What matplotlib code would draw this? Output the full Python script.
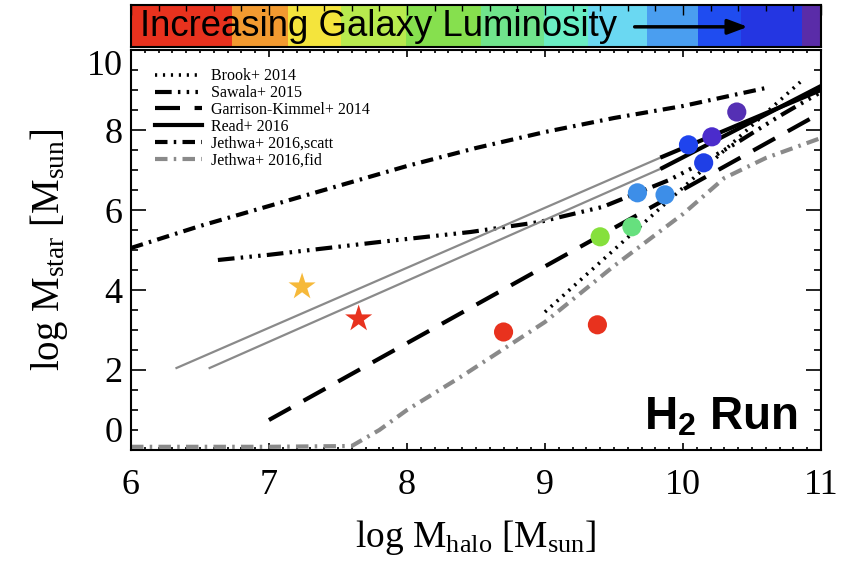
import matplotlib.pyplot as plt
from matplotlib.ticker import MultipleLocator

plt.rcParams['mathtext.fontset'] = 'custom'
plt.rcParams['mathtext.rm'] = 'Liberation Serif'
plt.rcParams['mathtext.it'] = 'Liberation Serif:italic'
plt.rcParams['mathtext.bf'] = 'Liberation Sans:bold'

# abundance-matching relations: log M_halo -> log M_star
brook_x = [9.0, 10.85]
brook_y = [3.45, 9.2]
sawala_x = [6.63, 7.0, 7.8, 8.46, 8.96, 9.42, 9.67, 9.9, 10.14, 10.39, 10.7, 11.0]
sawala_y = [4.75, 4.88, 5.2, 5.45, 5.7, 6.08, 6.43, 6.75, 7.18, 7.68, 8.35, 8.95]
gk_x = [7.0, 11.0]
gk_y = [0.75, 8.43]
read_x = [[6.33, 9.85, 11.0], [6.57, 9.85, 11.0]]
read_y = [[2.05, 7.33, 9.0], [2.05, 7.05, 9.1]]
jscatt_x = [6.0, 6.5, 7.0, 7.5, 8.0, 8.5, 9.0, 9.5, 10.0, 10.6]
jscatt_y = [5.05, 5.6, 6.1, 6.6, 7.1, 7.55, 7.95, 8.3, 8.6, 9.05]
jfid_x = [6.0, 7.0, 7.6, 7.8, 8.0, 8.4, 9.0, 9.5, 10.0, 10.3, 10.6, 11.0]
jfid_y = [0.08, 0.08, 0.1, 0.5, 1.0, 1.85, 3.2, 4.6, 5.9, 6.8, 7.3, 7.8]

# simulated galaxies
gal_x = [8.70, 9.38, 9.40, 9.63, 9.67, 9.87, 10.04, 10.15, 10.21, 10.39]
gal_y = [2.95, 3.13, 5.33, 5.58, 6.43, 6.38, 7.63, 7.18, 7.83, 8.45]
gal_c = ['#e8321e', '#e8321e', '#86e03c', '#66e07e', '#3d8ee8', '#3d8ee8',
         '#1f44ee', '#1f3fe6', '#4b2ccc', '#5530b4']
star_x = [7.24, 7.65]
star_y = [4.08, 3.28]
star_c = ['#f6b93a', '#e8321e']

# luminosity colour strip
band_edges = [6.0, 6.73, 7.14, 7.52, 7.99, 8.54, 8.99, 9.31, 9.74, 10.11, 10.42, 10.86, 11.0]
band_colors = ['#e8321e', '#f29a30', '#f4e43c', '#b8ea4e', '#86e04e', '#70e48c',
               '#6aeec4', '#6ad8f2', '#4a9ef0', '#1f4cf0', '#2436e2', '#5a2ca8']

fig = plt.figure(figsize=(8.46, 5.62), dpi=100)
ax = fig.add_axes([0.1548, 0.1993, 0.8156, 0.7117])
cax = fig.add_axes([0.1548, 0.9164, 0.8156, 0.0747])

lw = 3.0
ax.plot(brook_x, brook_y, color='k', lw=2.6, linestyle=(0, (0.6, 1.6)), label='Brook+ 2014')
ax.plot(sawala_x, sawala_y, color='k', lw=lw, linestyle=(0, (4, 1.5, 0.6, 1.5, 0.6, 1.5, 0.6, 1.5)),
        label='Sawala+ 2015')
ax.plot(gk_x, gk_y, color='k', lw=lw, linestyle=(0, (6, 3.5)), label='Garrison-Kimmel+ 2014')
for xs, ys in zip(read_x, read_y):
    ax.plot(xs[:2], ys[:2], color='#8a8a8a', lw=1.6)
    ax.plot(xs[1:], ys[1:], color='k', lw=lw)
ax.plot([], [], color='k', lw=lw, label='Read+ 2016')
ax.plot(jscatt_x, jscatt_y, color='k', lw=lw, linestyle=(0, (3, 1.5, 0.6, 1.5)),
        label='Jethwa+ 2016,scatt')
ax.plot(jfid_x, jfid_y, color='#8a8a8a', lw=lw, linestyle=(0, (3, 1.5, 0.6, 1.5)),
        label='Jethwa+ 2016,fid')

ax.scatter(gal_x, gal_y, s=190, c=gal_c, edgecolors='none', zorder=5)
ax.scatter(star_x, star_y, s=420, c=star_c, marker='*', edgecolors='none', zorder=5)

ax.set_xlim(6, 11)
ax.set_ylim(0, 10)
ax.set_xticks(range(6, 12))
ax.set_yticks(range(0, 11, 2))
ax.xaxis.set_minor_locator(MultipleLocator(0.1))
ax.yaxis.set_minor_locator(MultipleLocator(0.5))
ax.tick_params(which='both', direction='in', top=True, right=True, width=1.2,
               labelsize=26, labelfontfamily='Liberation Serif')
ax.tick_params(axis='x', which='major', length=5, pad=14)
ax.tick_params(axis='x', which='minor', length=2.5)
ax.tick_params(axis='y', which='major', length=11, pad=6)
ax.tick_params(axis='y', which='minor', length=5)
ylabs = ax.get_yticklabels()
ylabs[0].set_verticalalignment('bottom')
ylabs[-1].set_verticalalignment('top')
for s in ax.spines.values():
    s.set_linewidth(1.5)

ax.set_xlabel(r'log M$_{\rm halo}$ [M$_{\rm sun}$]', fontsize=27, family='Liberation Serif', labelpad=11)
ax.set_ylabel(r'log M$_{\rm star}$ [M$_{\rm sun}$]', fontsize=28, family='Liberation Serif', labelpad=12)

ax.legend(loc='upper left', bbox_to_anchor=(0.026, 0.97), frameon=False, handlelength=2.9,
          handletextpad=0.6, labelspacing=0.05, borderaxespad=0,
          prop={'family': 'Liberation Serif', 'size': 11.5})

ax.text(10.83, 0.5, r'H$_\mathbf{2}$ Run', fontsize=33, fontweight='bold',
        family='Liberation Sans', ha='right', va='baseline')

# colour strip across the top
for i, col in enumerate(band_colors):
    cax.axvspan(band_edges[i], band_edges[i + 1], color=col, lw=0)
cax.set_xlim(6, 11)
cax.set_ylim(0, 1)
cax.set_yticks([])
cax.set_xticks(range(6, 12))
cax.xaxis.set_minor_locator(MultipleLocator(0.2))
cax.tick_params(which='both', direction='in', bottom=False, top=True, labelbottom=False, width=1.0)
cax.tick_params(which='major', length=7)
cax.tick_params(which='minor', length=4)
for s in cax.spines.values():
    s.set_linewidth(1.5)
cax.text(6.065, 0.48, 'Increasing Galaxy Luminosity', fontsize=26.3, family='Liberation Sans',
         va='center', ha='left')
cax.annotate('', xy=(10.49, 0.48), xytext=(9.63, 0.48),
             arrowprops=dict(arrowstyle='-|>,head_length=1.2,head_width=0.45', color='k', lw=2.5))

fig.savefig('out.png', dpi=100)
